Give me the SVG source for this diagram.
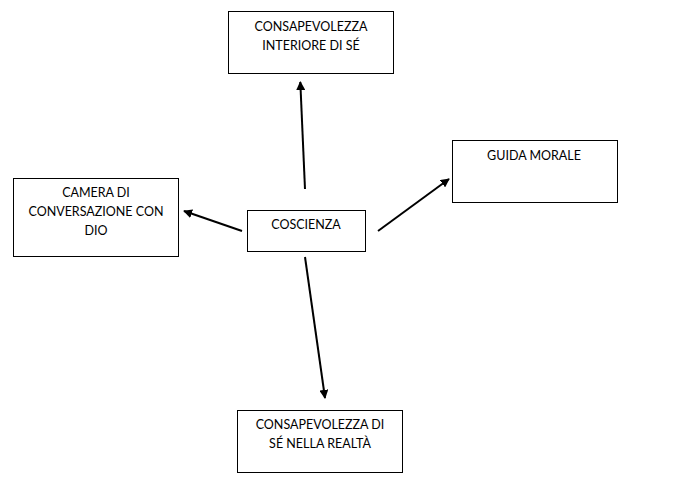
<svg xmlns="http://www.w3.org/2000/svg" width="694" height="494" viewBox="0 0 694 494">
<style>
.box{fill:#fff;stroke:#000;stroke-width:1}
.t{font-family:Lato,"Open Sans","Liberation Sans",sans-serif;font-size:12.5px;fill:#000;text-anchor:middle}
.c{stroke:#000;stroke-width:2;fill:none;marker-end:url(#ah)}
</style>
<defs>
<marker id="ah" viewBox="0 0 10 10" refX="9" refY="5" markerWidth="4.5" markerHeight="4.5" orient="auto" markerUnits="strokeWidth">
<path d="M0,0 L10,5 L0,10 Z" fill="#000"/>
</marker>
</defs>
<rect width="694" height="494" fill="#fff"/>
<g id="connectors">
<line class="c" x1="305" y1="189" x2="300.3" y2="82"/>
<line class="c" x1="242" y1="231" x2="184" y2="211"/>
<line class="c" x1="378" y1="231" x2="449" y2="179"/>
<line class="c" x1="305" y1="257" x2="325" y2="398"/>
</g>
<g id="top">
<rect class="box" x="228.5" y="11.5" width="165" height="62"/>
<text class="t" x="311" y="31">CONSAPEVOLEZZA</text>
<text class="t" x="311" y="50">INTERIORE DI SÉ</text>
</g>
<g id="left">
<rect class="box" x="13.5" y="178.5" width="165" height="78"/>
<text class="t" x="96" y="197">CAMERA DI</text>
<text class="t" x="96" y="216">CONVERSAZIONE CON</text>
<text class="t" x="96" y="235">DIO</text>
</g>
<g id="center">
<rect class="box" x="247.5" y="210.5" width="118" height="41"/>
<text class="t" x="306" y="229">COSCIENZA</text>
</g>
<g id="right">
<rect class="box" x="452.5" y="140.5" width="165" height="62"/>
<text class="t" x="534" y="160">GUIDA MORALE</text>
</g>
<g id="bottom">
<rect class="box" x="237.5" y="410.5" width="165" height="62"/>
<text class="t" x="320" y="429">CONSAPEVOLEZZA DI</text>
<text class="t" x="320" y="448">SÉ NELLA REALTÀ</text>
</g>
</svg>
